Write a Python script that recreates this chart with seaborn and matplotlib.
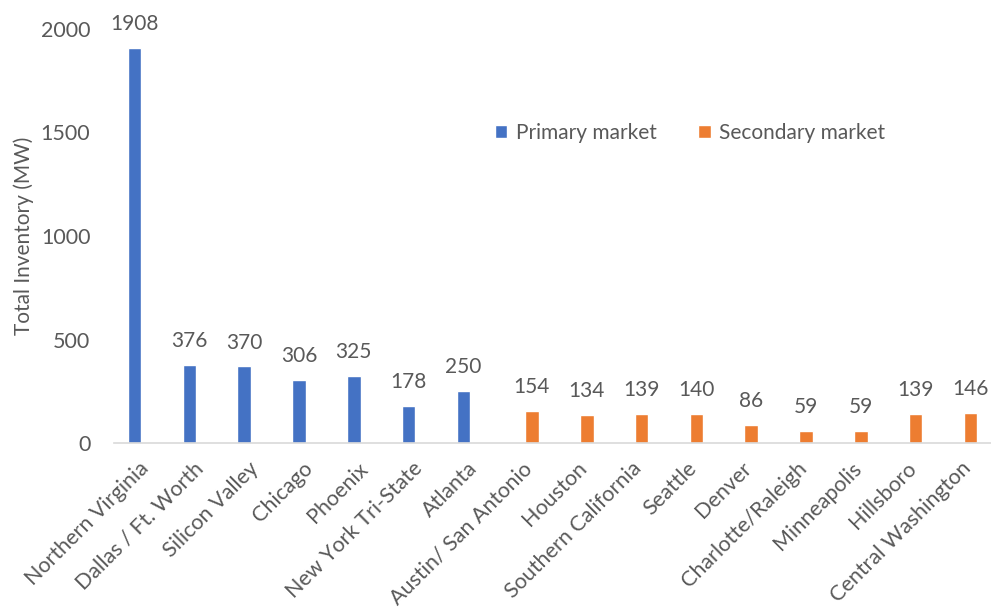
import matplotlib
matplotlib.use("Agg")
import matplotlib.pyplot as plt
import matplotlib.transforms as mtransforms
import seaborn as sns
import pandas as pd

markets = ["Northern Virginia", "Dallas / Ft. Worth", "Silicon Valley", "Chicago",
           "Phoenix", "New York Tri-State", "Atlanta", "Austin/ San Antonio",
           "Houston", "Southern California", "Seattle", "Denver",
           "Charlotte/Raleigh", "Minneapolis", "Hillsboro", "Central Washington"]
inventory = [1908, 376, 370, 306, 325, 178, 250, 154, 134, 139, 140, 86, 59, 59, 139, 146]
market_type = ["Primary market"] * 7 + ["Secondary market"] * 9
y_ticks = [0, 500, 1000, 1500, 2000]

df = pd.DataFrame({"market": markets, "inventory": inventory, "type": market_type})

sns.set_theme(style="white")
plt.rcParams["font.family"] = ["Lato", "DejaVu Sans"]
text_color = "#595959"

fig = plt.figure(figsize=(9.91, 6.10), dpi=100)
ax = fig.add_axes([114 / 991, (610 - 443) / 610, (991 - 114) / 991, (443 - 29) / 610])

palette = {"Primary market": "#4472C4", "Secondary market": "#ED7D31"}
sns.barplot(data=df, x="market", y="inventory", hue="type", palette=palette,
            dodge=True, width=0.5, ax=ax, saturation=1, legend=True)

for cont in ax.containers:
    ax.bar_label(cont, fmt="%d", padding=10, fontsize=15, color=text_color, clip_on=False)

ax.set_ylim(0, 2000)
ax.set_xlim(-0.5, 15.5)
ax.set_yticks(y_ticks)
ax.set_yticklabels([str(v) for v in y_ticks])
ax.tick_params(axis="y", length=0, pad=17, labelsize=15.5, labelcolor=text_color)
ax.tick_params(axis="x", length=0, pad=11, labelsize=15.5, labelcolor=text_color)
ax.set_xlabel("")
ax.set_ylabel("Total Inventory (MW)", fontsize=15, color=text_color, labelpad=5)

offset = mtransforms.ScaledTranslation(-3 / 100, 0, fig.dpi_scale_trans)
for lbl in ax.get_xticklabels():
    lbl.set_rotation(45)
    lbl.set_ha("right")
    lbl.set_va("top")
    lbl.set_rotation_mode("anchor")
    lbl.set_transform(lbl.get_transform() + offset)

for side in ["left", "right", "top"]:
    ax.spines[side].set_visible(False)
ax.spines["bottom"].set_color("#D9D9D9")
ax.spines["bottom"].set_linewidth(1.2)

leg = ax.legend(loc="center", bbox_to_anchor=(690 / 991, (610 - 133) / 610),
                bbox_transform=fig.transFigure, ncol=2, frameon=False,
                fontsize=15, handlelength=0.6, handleheight=0.6, handletextpad=0.4,
                columnspacing=2.0, labelcolor=text_color)

fig.savefig("out.png", dpi=100)
